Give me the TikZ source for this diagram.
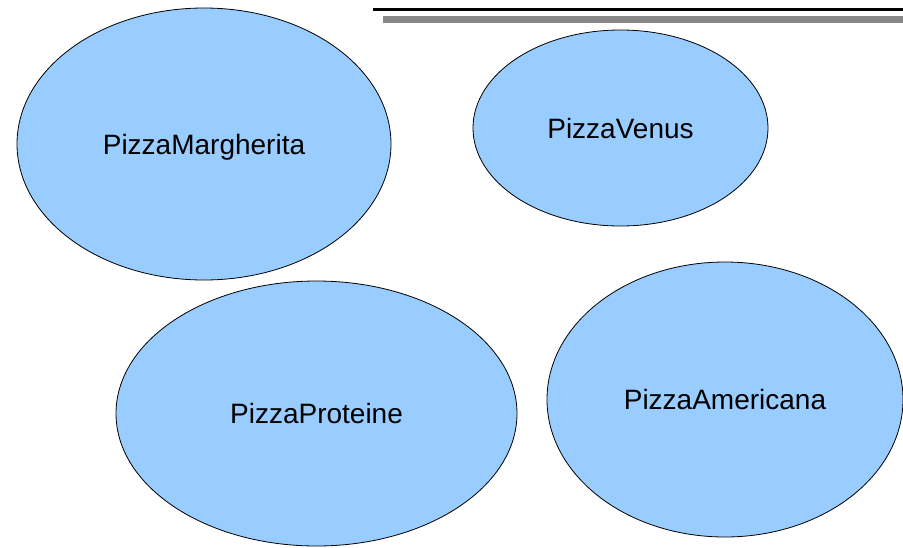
\documentclass[tikz,border=0pt]{standalone}
\usepackage{fontspec}
\setmainfont{Liberation Sans}
\usepackage{xcolor}
\usetikzlibrary{shapes.geometric}
\definecolor{pizzablue}{HTML}{99CCFF}
\definecolor{bargray}{HTML}{888888}

\begin{document}
\begin{tikzpicture}[
  x=1pt, y=-1pt,
  pizza/.style={ellipse, draw=black, line width=0.8pt, fill=pizzablue, inner sep=0pt,
    font=\fontsize{28}{34}\selectfont, text height=20pt, text depth=0pt}
]
\useasboundingbox (0,0) rectangle (903,547);
% classes
\node[pizza, minimum width=374pt, minimum height=272pt] (margherita) at (204,144) {PizzaMargherita};
\node[pizza, minimum width=295pt, minimum height=196pt] (venus) at (620.5,128) {PizzaVenus};
\node[pizza, minimum width=401pt, minimum height=265pt] (proteine) at (316.5,413.5) {PizzaProteine};
\node[pizza, minimum width=356pt, minimum height=275pt] (americana) at (725,399.5) {PizzaAmericana};

% bars at the top
\coordinate (blackL) at (373,9);
\coordinate (blackR) at (903,9);
\coordinate (grayL) at (383,19.5);
\coordinate (grayR) at (903,19.5);
\draw[line width=3pt] (blackL) -- (blackR);
\draw[line width=7pt, bargray] (grayL) -- (grayR);
\end{tikzpicture}
\end{document}
